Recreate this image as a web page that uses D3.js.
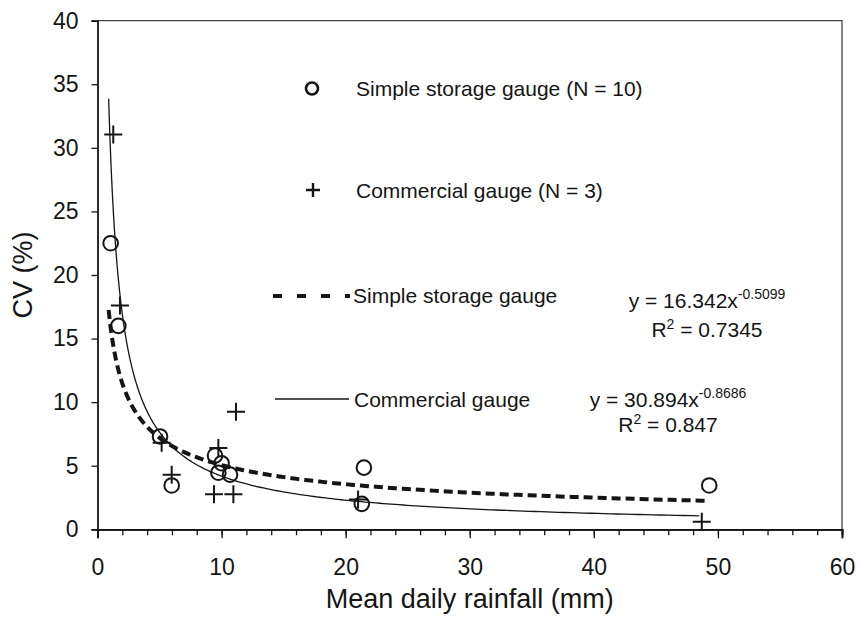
<!DOCTYPE html>
<html>
<head>
<meta charset="utf-8">
<script src="https://cdn.jsdelivr.net/npm/d3@7"></script>
<style>
  html, body { margin: 0; padding: 0; background: #fff; }
  svg { display: block; font-family: "Liberation Sans", Arial, Helvetica, sans-serif; }
</style>
</head>
<body>
<svg id="chart" width="860" height="631"></svg>
<script>
// Tick values
const xTickValues = [0, 10, 20, 30, 40, 50, 60];
const xMinorTickValues = d3.range(0, 61, 2);
const yTickValues = [0, 5, 10, 15, 20, 25, 30, 35, 40];

// Simple storage gauge: mean daily rainfall (mm) vs CV (%)
const storageRain = [1.06, 1.68, 5.04, 5.98, 9.47, 10.0, 9.74, 10.68, 21.3, 21.47, 49.3];
const storageCV   = [22.5, 16.0, 7.3, 3.45, 5.8, 5.2, 4.45, 4.3, 2.0, 4.85, 3.45];

// Commercial gauge
const commercialRain = [1.27, 1.81, 5.17, 5.98, 9.74, 11.16, 9.39, 10.95, 21.0, 48.7];
const commercialCV   = [31.05, 17.6, 6.8, 4.3, 6.4, 9.25, 2.75, 2.75, 2.35, 0.6];

// Power-law fits y = a * x^b : [a, b], plotted range [from, to], R²
const storageFit = [16.342, -0.5099];
const storageFitRange = [0.9, 49.3];
const storageR2 = 0.7345;
const commercialFit = [30.894, -0.8686];
const commercialFitRange = [0.9, 48.5];
const commercialR2 = 0.847;

const svg = d3.select("#chart");
const ink = "#151515";

const x = d3.scaleLinear().domain([0, 60]).range([97.5, 842]);
const y = d3.scaleLinear().domain([0, 40]).range([529.3, 20.7]);

// Plot frame (top and right edges)
svg.append("path")
  .attr("d", `M${x(0)},${y(40)}H${x(60)}V${y(0)}`)
  .attr("fill", "none").attr("stroke", "#444").attr("stroke-width", 1.3);

// X axis: minor ticks every 2 mm, labelled ticks every 10 mm
const xAxisG = svg.append("g").attr("transform", `translate(0,${y(0)})`);
xAxisG.call(d3.axisBottom(x).tickValues(xMinorTickValues).tickSize(6).tickFormat(""));
xAxisG.append("g").call(d3.axisBottom(x).tickValues(xTickValues).tickSize(9).tickPadding(20).tickFormat(d3.format("d")));
xAxisG.selectAll("path.domain").attr("stroke", ink).attr("stroke-width", 1.8);
xAxisG.selectAll(".tick line").attr("stroke", ink).attr("stroke-width", 1.3);
xAxisG.selectAll(".tick text").attr("fill", ink).attr("font-size", 23)
  .attr("font-family", "'Liberation Sans', Arial, sans-serif");

// Y axis
const yAxisG = svg.append("g").attr("transform", `translate(${x(0)},0)`);
yAxisG.call(d3.axisLeft(y).tickValues(yTickValues).tickSize(6).tickPadding(13).tickFormat(d3.format("d")));
yAxisG.select("path.domain").attr("stroke", ink).attr("stroke-width", 1.8);
yAxisG.selectAll(".tick line").attr("stroke", ink).attr("stroke-width", 1.3);
yAxisG.selectAll(".tick text").attr("fill", ink).attr("font-size", 23)
  .attr("font-family", "'Liberation Sans', Arial, sans-serif");

// Axis titles
svg.append("text")
  .attr("x", (x(0) + x(60)) / 2).attr("y", 608)
  .attr("text-anchor", "middle").attr("font-size", 27).attr("fill", ink)
  .text("Mean daily rainfall (mm)");
svg.append("text")
  .attr("transform", `translate(32,275) rotate(-90)`)
  .attr("text-anchor", "middle").attr("font-size", 27).attr("fill", ink)
  .text("CV (%)");

// Fitted power curves
function powerCurve(fit, range) {
  const pts = [];
  const n = 300;
  for (let i = 0; i <= n; i++) {
    const xv = range[0] * Math.pow(range[1] / range[0], i / n);
    pts.push([xv, fit[0] * Math.pow(xv, fit[1])]);
  }
  return pts;
}
const line = d3.line().x(d => x(d[0])).y(d => y(d[1]));

svg.append("path")
  .attr("d", line(powerCurve(commercialFit, commercialFitRange)))
  .attr("fill", "none").attr("stroke", ink).attr("stroke-width", 1.3);
svg.append("path")
  .attr("d", line(powerCurve(storageFit, storageFitRange)))
  .attr("fill", "none").attr("stroke", ink).attr("stroke-width", 4)
  .attr("stroke-dasharray", "9,5");

// Markers
function plus(g, cx, cy, h, w) {
  g.append("path")
    .attr("d", `M${cx - h},${cy}H${cx + h}M${cx},${cy - h}V${cy + h}`)
    .attr("stroke", ink).attr("stroke-width", w).attr("fill", "none");
}
const marks = svg.append("g");
storageRain.forEach((r, i) => {
  marks.append("circle")
    .attr("cx", x(r)).attr("cy", y(storageCV[i])).attr("r", 7.3)
    .attr("fill", "none").attr("stroke", ink).attr("stroke-width", 2);
});
commercialRain.forEach((r, i) => plus(marks, x(r), y(commercialCV[i]), 9, 2));

// Legend
const lg = svg.append("g").attr("font-size", 21).attr("fill", ink);
lg.append("circle").attr("cx", 312).attr("cy", 88.5).attr("r", 6)
  .attr("fill", "none").attr("stroke", ink).attr("stroke-width", 2.6);
lg.append("text").attr("x", 356).attr("y", 96).text("Simple storage gauge (N = 10)");
plus(lg, 313, 190, 7, 2.4);
lg.append("text").attr("x", 356).attr("y", 198).text("Commercial gauge (N = 3)");
lg.append("line").attr("x1", 273).attr("x2", 350).attr("y1", 296).attr("y2", 296)
  .attr("stroke", ink).attr("stroke-width", 4).attr("stroke-dasharray", "9,15");
lg.append("text").attr("x", 353).attr("y", 303).text("Simple storage gauge");
lg.append("line").attr("x1", 275).attr("x2", 349).attr("y1", 399).attr("y2", 399)
  .attr("stroke", ink).attr("stroke-width", 1.3);
lg.append("text").attr("x", 354).attr("y", 407).text("Commercial gauge");

// Fit equations
function equation(cx, cyEq, cyR2, fit, r2) {
  const t = svg.append("text").attr("x", cx).attr("y", cyEq)
    .attr("text-anchor", "middle").attr("font-size", 21).attr("fill", ink);
  t.append("tspan").text(`y = ${fit[0]}x`);
  t.append("tspan").attr("dy", -9).attr("font-size", 14).text(String(fit[1]));
  const r = svg.append("text").attr("x", cx).attr("y", cyR2)
    .attr("text-anchor", "middle").attr("font-size", 21).attr("fill", ink);
  r.append("tspan").text("R");
  r.append("tspan").attr("dy", -8).attr("font-size", 14).text("2");
  r.append("tspan").attr("dy", 8).text(` = ${r2}`);
}
equation(707, 308, 337, storageFit, storageR2);
equation(668, 407, 432, commercialFit, commercialR2);
</script>
</body>
</html>
